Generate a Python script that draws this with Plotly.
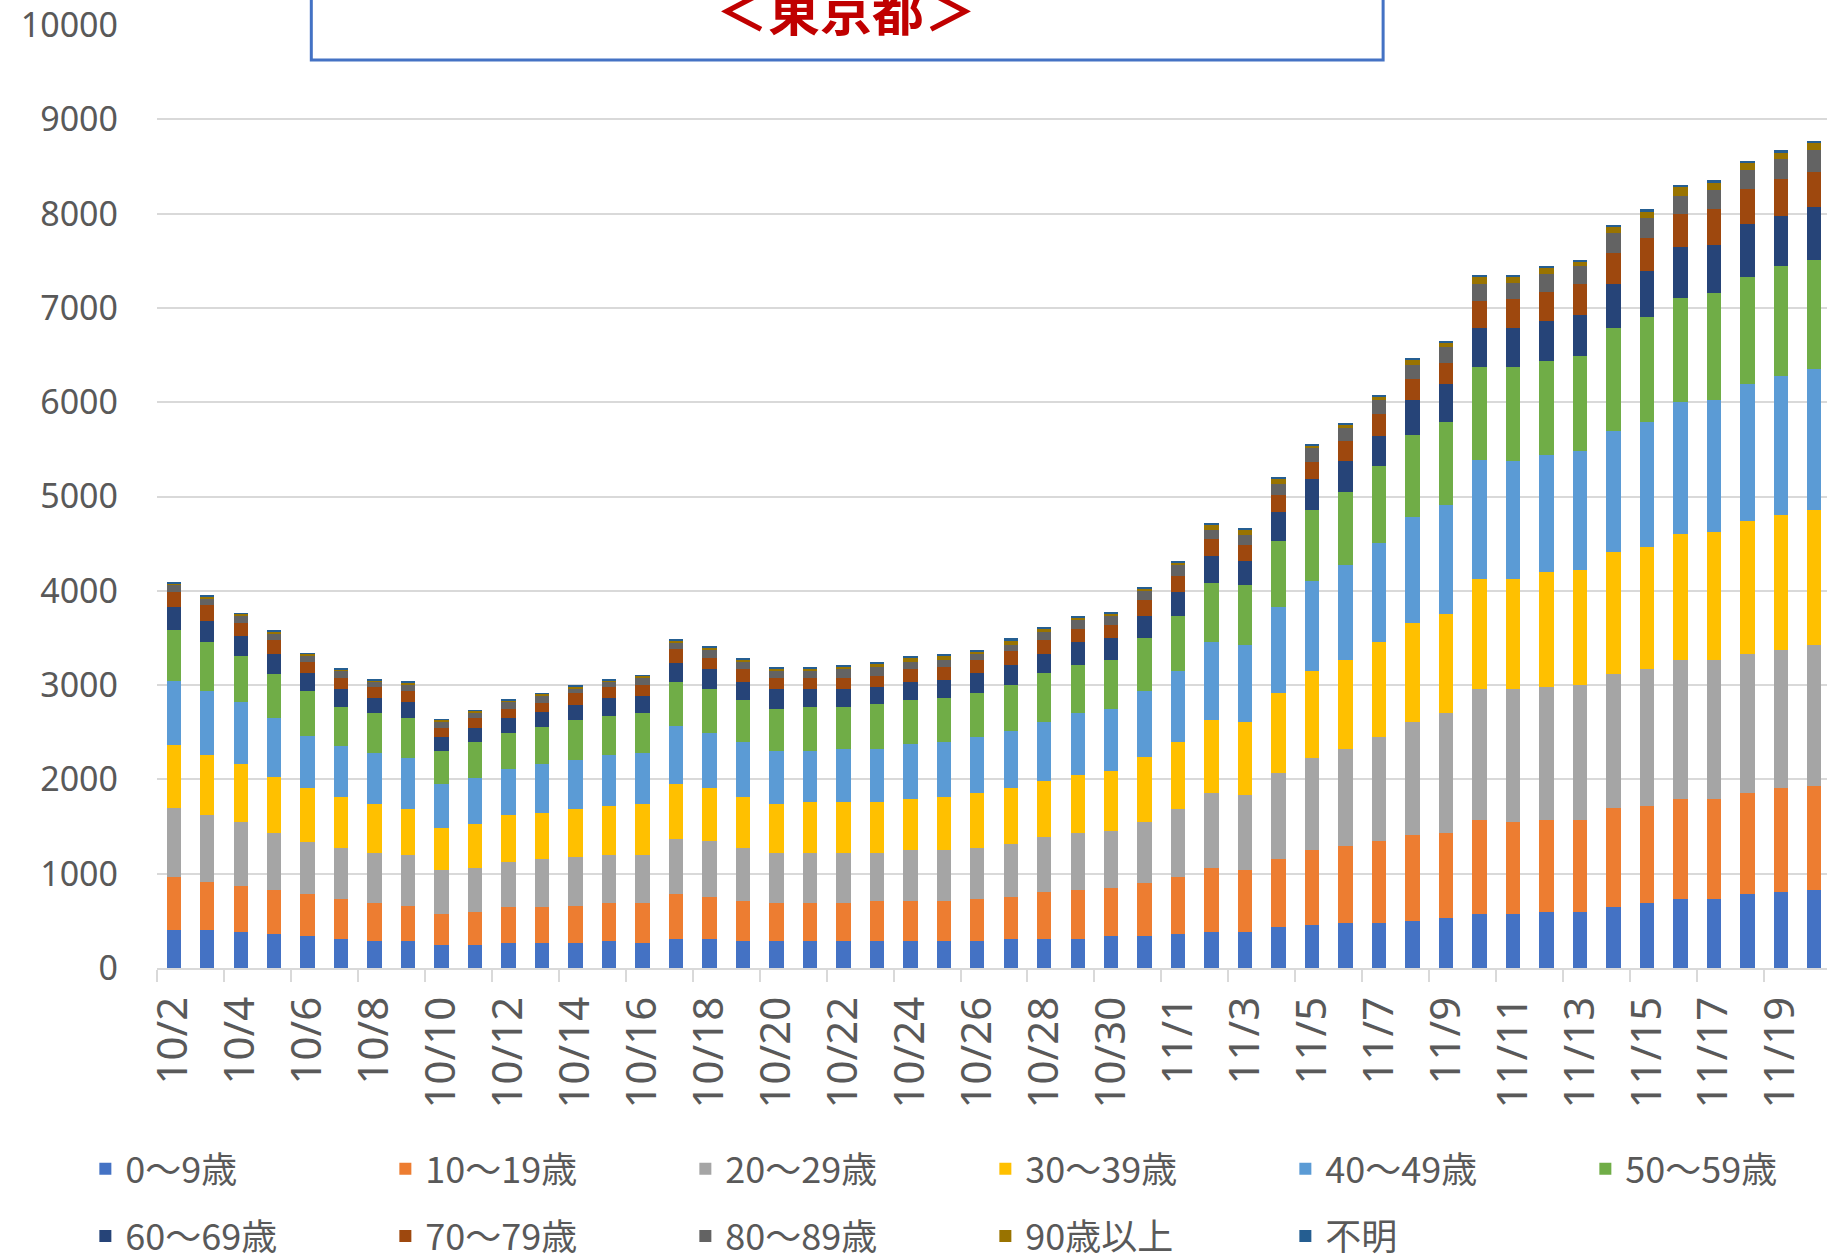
import plotly.graph_objects as go

dates = [f"10/{d}" for d in range(2, 32)] + [f"11/{d}" for d in range(1, 21)]

age_labels = ["0～9歳", "10～19歳", "20～29歳", "30～39歳", "40～49歳", "50～59歳",
              "60～69歳", "70～79歳", "80～89歳", "90歳以上", "不明"]
colors = ["#4472C4", "#ED7D31", "#A5A5A5", "#FFC000", "#5B9BD5", "#70AD47",
          "#264478", "#9E480E", "#636363", "#997300", "#255E91"]

age0_9 = [407,407,380,357,335,312,285,285,240,240, 262,262,262,285,262,312,312,285,285,285,
          285,285,285,285,285,312,312,312,335,335, 357,380,380,430,452,475,475,498,525,570,
          570,593,593,643,688,734,734,783,806,829]
age10_19 = [563,509,490,471,449,422,403,376,331,354, 380,380,399,403,426,471,445,426,403,403,
            403,426,426,426,449,445,494,517,517,563, 612,681,658,726,795,817,867,913,909,1004,
            981,981,981,1049,1027,1053,1053,1072,1099,1099]
age20_29 = [722,703,681,605,555,536,536,536,464,468, 487,513,517,509,509,582,586,559,536,536,
            536,513,536,536,536,563,586,605,605,654, 722,795,795,912,985,1034,1103,1198,1266,1384,
            1407,1411,1430,1430,1452,1475,1475,1479,1471,1498]
age30_39 = [677,635,612,589,567,544,517,494,449,468, 494,490,513,517,544,589,563,544,517,540,
            540,540,540,567,586,586,586,612,635,684, 703,772,776,844,916,935,1008,1053,1053,1171,
            1171,1217,1221,1289,1293,1338,1361,1407,1433,1430]
age40_49 = [677,681,654,631,559,536,536,540,468,490, 490,517,513,540,536,608,586,582,559,536,
            563,563,586,582,589,608,631,654,654,700, 753,825,818,912,958,1008,1053,1125,1152,1262,
            1243,1240,1262,1287,1333,1400,1398,1447,1469,1494]
age50_59 = [540,517,490,468,471,422,422,422,350,376, 376,395,422,422,422,468,468,445,445,471,
            445,468,468,471,468,490,517,517,517,563, 582,631,635,703,749,776,817,865,888,979,
            998,1000,1000,1092,1110,1110,1142,1138,1163,1159]
age60_69 = [240,232,213,213,190,186,167,163,144,144, 163,163,163,190,186,209,209,190,213,186,
            186,190,190,183,213,213,209,236,236,236, 259,281,259,304,327,328,321,370,395,419,
            419,419,440,465,490,539,507,560,536,564]
age70_79 = [160,163,141,141,114,118,114,118,95,114, 95,95,122,114,118,141,118,141,118,118,
            118,114,141,144,137,141,141,141,141,163, 167,186,163,186,187,211,236,229,229,282,
            303,307,328,324,349,345,377,374,395,370]
age80_89 = [76,76,76,72,76,76,53,72,76,57, 76,72,53,53,76,72,91,72,72,72,
            95,95,72,68,68,68,91,95,95,95, 114,91,110,114,141,141,141,141,169,183,
            169,187,187,211,211,194,204,201,211,229]
age90p = [19,19,19,19,15,15,15,19,15,15, 15,19,19,15,19,19,20,30,30,30,
          30,30,45,50,30,50,35,30,23,30, 30,53,53,61,35,35,42,60,46,78,
          70,70,49,70,74,95,78,81,70,78]
unknown = [8,8,8,8,8,8,8,8,8,8, 8,8,8,8,8,8,8,12,10,10,
           10,12,15,18,15,20,15,12,19,15, 15,23,23,19,11,11,11,18,18,18,
           18,18,18,18,21,21,25,18,21,21]

series = [age0_9, age10_19, age20_29, age30_39, age40_49, age50_59,
          age60_69, age70_79, age80_89, age90p, unknown]

title_text = "＜東京都＞"

TICK_GRAY = "#595959"
GRID = "#D9D9D9"

fig = go.Figure()
for i, (name, vals, col) in enumerate(zip(age_labels, series, colors)):
    fig.add_trace(go.Bar(
        x=dates, y=vals, name=name, marker=dict(color=col, line=dict(width=0)),
        legend="legend" if i < 6 else "legend2",
    ))

legend_common = dict(
    orientation="h", entrywidth=255, entrywidthmode="pixels",
    font=dict(family="Noto Sans CJK JP", size=36, color=TICK_GRAY),
    bgcolor="rgba(0,0,0,0)", xanchor="left", yanchor="middle",
    traceorder="normal", itemclick=False,
)

fig.update_layout(
    width=1827, height=1254,
    margin=dict(l=157, r=0, t=25, b=286, pad=0, autoexpand=False),
    barmode="stack", bargap=0.57,
    plot_bgcolor="white", paper_bgcolor="white",
    legend=dict(x=-0.0429, y=-0.2131, **legend_common),
    legend2=dict(x=-0.0429, y=-0.2842, **legend_common),
    xaxis=dict(
        type="category", categoryorder="array", categoryarray=dates,
        range=[-0.5, 49.38],
        tickmode="linear", tick0=0, dtick=2, tickson="boundaries",
        ticks="outside", ticklen=12, tickwidth=2, tickcolor=GRID,
        tickangle=-90, ticklabelstandoff=10,
        tickfont=dict(family="Noto Sans", size=42, color=TICK_GRAY),
        showline=True, linecolor=GRID, linewidth=2,
        showgrid=False, zeroline=False,
    ),
    yaxis=dict(
        range=[0, 10000], dtick=1000, tick0=0, tickformat="d",
        showgrid=True, gridcolor=GRID, gridwidth=2,
        zeroline=False, showline=False, ticks="",
        ticklabelstandoff=38,
        tickfont=dict(family="Noto Sans", size=34, color=TICK_GRAY),
    ),
    shapes=[dict(
        type="rect", xref="paper", yref="paper",
        x0=0.0924, x1=0.7342, y0=0.9629, y1=1.08,
        line=dict(color="#4472C4", width=3), fillcolor="white", layer="above",
    )],
    annotations=[dict(
        text="<b>" + title_text + "</b>", xref="paper", yref="paper",
        x=0.4127, y=1.018, xanchor="center", yanchor="middle", showarrow=False,
        font=dict(family="Noto Sans CJK JP", size=52, color="#C00000"),
    )],
)

fig.write_html("out.html", config={"displayModeBar": False},
               post_script="document.body.style.margin='0';")
